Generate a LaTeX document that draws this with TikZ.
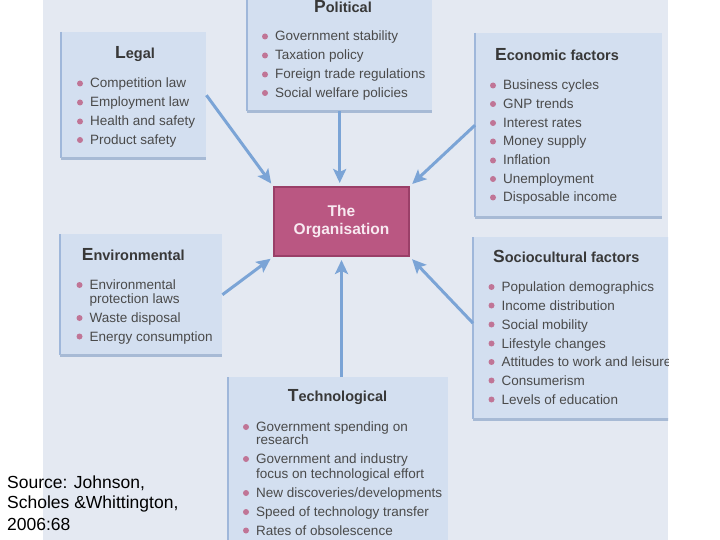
\documentclass[tikz,border=0pt]{standalone}
\usepackage{fontspec}
\setmainfont{Liberation Sans}
\usetikzlibrary{arrows.meta}
\definecolor{scanbg}{HTML}{E4E9F2}
\definecolor{boxfill}{HTML}{D3DFF0}
\definecolor{boxleft}{HTML}{9FB7DA}
\definecolor{boxbottom}{HTML}{A7BAD5}
\definecolor{orgfill}{HTML}{BA5782}
\definecolor{orgedge}{HTML}{9A3F68}
\definecolor{orgtext}{HTML}{F8EAF1}
\definecolor{arrowc}{HTML}{7BA4D6}
\definecolor{bul}{HTML}{C07596}
\definecolor{ttl}{HTML}{383838}
\definecolor{itm}{HTML}{4A4A4A}
\tikzset{
  box/.style={fill=boxfill, inner sep=0pt, anchor=north west},
  ledge/.style={draw=boxleft, line width=2pt},
  bedge/.style={draw=boxbottom, line width=2.5pt},
  item/.style={anchor=base west, inner sep=0pt, text=itm, font=\fontsize{13.5}{15}\selectfont},
  title/.style={anchor=base west, inner sep=0pt, text=ttl, font=\bfseries\fontsize{14.5}{16}\selectfont},
  ctitle/.style={title, anchor=base},
  src/.style={anchor=base west, inner sep=0pt, text=black, font=\fontsize{17.5}{20}\selectfont},
  arr/.style={draw=arrowc, line width=3pt, -{Stealth[length=14pt,width=13pt,inset=3pt]}, shorten >=3pt},
  orgbox/.style={fill=orgfill, draw=orgedge, line width=2pt, inner sep=0pt, anchor=north west,
    text=orgtext, align=center, font=\bfseries\fontsize{15.5}{17.6}\selectfont},
}
\newcommand{\ttlx}[2]{{\fontsize{17.5}{18}\selectfont #1}#2}
\newcommand{\myitem}[4]{\fill[bul] (#2-10,#3-4.5) circle (3pt); \node[item] (#1) at (#2,#3) {#4};}
\newcommand{\mycont}[4]{\node[item] (#1) at (#2,#3) {#4};}
\newcommand{\edges}[1]{\draw[ledge] (#1.north west) -- (#1.south west); \draw[bedge] (#1.south west) -- (#1.south east);}
\begin{document}
\begin{tikzpicture}[x=1pt,y=-1pt]
\useasboundingbox (0,0) rectangle (720,540);
\fill[white] (0,0) rectangle (720,540);
\begin{scope}
\clip (43,0) rectangle (668,540);
\fill[scanbg] (43,0) rectangle (668,540);
% boxes
\node[box, minimum width=145pt, minimum height=126pt] (legal) at (61,32) {};
\node[box, minimum width=185pt, minimum height=121pt] (pol) at (247,-10) {};
\node[box, minimum width=187pt, minimum height=184pt] (econ) at (475,33) {};
\node[box, minimum width=162pt, minimum height=121pt] (env) at (60,234) {};
\node[box, minimum width=220pt, minimum height=182pt] (socio) at (473,237) {};
\node[box, minimum width=220pt, minimum height=180pt] (tech) at (228,377) {};
\edges{legal}\edges{pol}\edges{econ}\edges{env}\edges{socio}\edges{tech}
\node[orgbox, minimum width=135pt, minimum height=69pt] (org) at (273,186) {The\\Organisation};
% Legal
\node[ctitle] (legal-t) at (135,59) {\ttlx{L}{egal}};
\myitem{legal-1}{90}{88}{Competition law}
\myitem{legal-2}{90}{107}{Employment law}
\myitem{legal-3}{90}{126}{Health and safety}
\myitem{legal-4}{90}{144.5}{Product safety}
% Political
\node[ctitle] (pol-t) at (343,12.7) {\ttlx{P}{olitical}};
\myitem{pol-1}{275}{41}{Government stability}
\myitem{pol-2}{275}{60}{Taxation policy}
\myitem{pol-3}{275}{79}{Foreign trade regulations}
\myitem{pol-4}{275}{97.5}{Social welfare policies}
% Economic
\node[title] (econ-t) at (495,61) {\ttlx{E}{conomic factors}};
\myitem{econ-1}{503}{90}{Business cycles}
\myitem{econ-2}{503}{108.5}{GNP trends}
\myitem{econ-3}{503}{127.5}{Interest rates}
\myitem{econ-4}{503}{146}{Money supply}
\myitem{econ-5}{503}{165}{Inflation}
\myitem{econ-6}{503}{183.5}{Unemployment}
\myitem{econ-7}{503}{202}{Disposable income}
% Environmental
\node[title] (env-t) at (81.7,260.7) {\ttlx{E}{nvironmental}};
\myitem{env-1}{89.5}{289.5}{Environmental}
\mycont{env-1b}{89.5}{303.5}{protection laws}
\myitem{env-2}{89.5}{322.5}{Waste disposal}
\myitem{env-3}{89.5}{341}{Energy consumption}
% Sociocultural
\node[title] (socio-t) at (493,262.3) {\ttlx{S}{ociocultural factors}};
\myitem{socio-1}{501.5}{291.5}{Population demographics}
\myitem{socio-2}{501.5}{310}{Income distribution}
\myitem{socio-3}{501.5}{329}{Social mobility}
\myitem{socio-4}{501.5}{348}{Lifestyle changes}
\myitem{socio-5}{501.5}{366.5}{Attitudes to work and leisure}
\myitem{socio-6}{501.5}{385}{Consumerism}
\myitem{socio-7}{501.5}{404}{Levels of education}
% Technological
\node[ctitle] (tech-t) at (337.5,401.7) {\ttlx{T}{echnological}};
\myitem{tech-1}{256}{431.5}{Government spending on}
\mycont{tech-1b}{256}{444.5}{research}
\myitem{tech-2}{256}{463.5}{Government and industry}
\mycont{tech-2b}{256}{478.5}{focus on technological effort}
\myitem{tech-3}{256}{497.5}{New discoveries/developments}
\myitem{tech-4}{256}{516.5}{Speed of technology transfer}
\myitem{tech-5}{256}{535}{Rates of obsolescence}
% arrows
\draw[arr] (legal.east) -- (org.north west);
\draw[arr] (pol.south) -- (pol.south |- org.north);
\draw[arr] (econ.west) -- (org.north east);
\draw[arr] (env.east) -- (org.south west);
\draw[arr] ([yshift=5pt]socio.west) -- (org.south east);
\draw[arr] (tech.north -| org.south) -- (org.south);
\end{scope}
% source
\node[src] (src-1) at (7,488.3) {Source: Johnson,};
\node[src] (src-2) at (7,508.3) {Scholes \&Whittington,};
\node[src] (src-3) at (7,530) {2006:68};
\end{tikzpicture}
\end{document}
